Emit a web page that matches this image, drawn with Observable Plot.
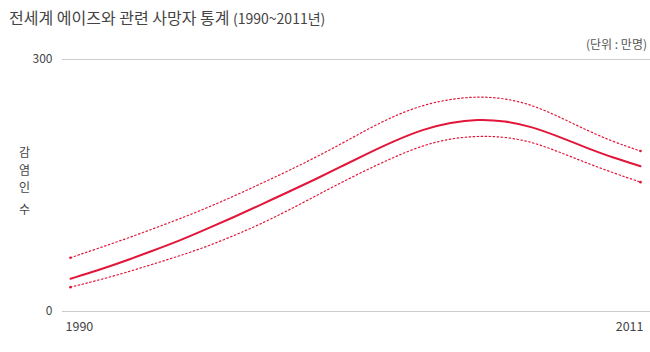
<!DOCTYPE html>
<html><head><meta charset="utf-8">
<script src="https://cdn.jsdelivr.net/npm/d3@7"></script>
<script src="https://cdn.jsdelivr.net/npm/@observablehq/plot@0.6"></script>
<style>
body{margin:0;background:#fff;font-family:"Noto Sans CJK KR","Noto Sans",sans-serif;}
#wrap{position:relative;width:650px;height:352px;overflow:hidden;background:#fff;}
#title{position:absolute;left:9px;top:5px;font-size:16px;color:#444;white-space:nowrap;z-index:2;}
#title .sub{font-size:14px;}
#unit{position:absolute;right:3px;top:35px;font-size:12px;color:#555;z-index:2;white-space:nowrap;}
#ylab{position:absolute;left:19px;top:143px;font-size:12px;color:#444;z-index:2;text-align:center;}
#ylab span{display:block;line-height:17.5px;}
#ylab span.gap{margin-top:4px;}
#chart{position:absolute;left:0;top:35px;z-index:1;}
</style></head>
<body>
<div id="wrap">
  <div id="title">전세계 에이즈와 관련 사망자 통계 <span class="sub">(1990~2011년)</span></div>
  <div id="unit">(단위 : 만명)</div>
  <div id="ylab"><span>감</span><span>염</span><span>인</span><span class="gap">수</span></div>
  <div id="chart"></div>
</div>
<script>
const years  = [1990,1991,1992,1993,1994,1995,1996,1997,1998,1999,2000,2001,2002,2003,2004,2005,2006,2007,2008,2009,2010,2011];
const deaths = [39,49,60,72,84,98,112,127,142,157,173,189,204,217,225,229,227,220,208,195,183,173];
const upper  = [64,75,86,98,110,123,137,152,167,183,200,218,234,246,253,256,254,246,232,216,202,191];
const lower  = [29,37,46,56,66,77,90,104,120,137,154,170,185,198,206,209,208,202,190,177,165,154];
const xTicks = [1990, 2011];
const yTicks = [0, 300];

const data = years.map((y, i) => ({year: y, mid: deaths[i], hi: upper[i], lo: lower[i]}));
const ends = data.filter(d => d.year === xTicks[0] || d.year === xTicks[1]);
const red = "#e2163a";
const ink = "#444";

const chart = Plot.plot({
  width: 650, height: 317,
  marginTop: 24, marginBottom: 41, marginLeft: 62, marginRight: 0,
  insetLeft: 8, insetRight: 10,
  x: {domain: [1990, 2011], axis: null},
  y: {domain: [0, 300], axis: null},
  style: {fontFamily: "'Noto Sans CJK KR','Noto Sans',sans-serif", fontSize: "12px", color: ink, background: "transparent"},
  marks: [
    Plot.ruleY(yTicks, {stroke: "#cccccc", strokeWidth: 1}),
    Plot.axisY(yTicks, {tickSize: 0, tickPadding: 10, label: null, fontSize: 12, fill: ink, tickFormat: d => String(d)}),
    Plot.line(data, {x: "year", y: "hi", curve: "basis", stroke: red, strokeWidth: 1.2, strokeDasharray: "1.5,2.5"}),
    Plot.line(data, {x: "year", y: "lo", curve: "basis", stroke: red, strokeWidth: 1.2, strokeDasharray: "1.5,2.5"}),
    Plot.line(data, {x: "year", y: "mid", curve: "basis", stroke: red, strokeWidth: 2}),
    Plot.dot(ends, {x: "year", y: "hi", r: 1.3, fill: red, stroke: null}),
    Plot.dot(ends, {x: "year", y: "lo", r: 1.3, fill: red, stroke: null}),
    Plot.text([xTicks[0]], {x: d => d, y: 0, dy: 15, dx: -5, textAnchor: "start", fontSize: 12.5, fill: ink, text: d => String(d)}),
    Plot.text([xTicks[1]], {x: d => d, y: 0, dy: 15, dx: 3, textAnchor: "end", fontSize: 12.5, fill: ink, text: d => String(d)})
  ]
});
document.getElementById("chart").appendChild(chart);
</script>
</body></html>
